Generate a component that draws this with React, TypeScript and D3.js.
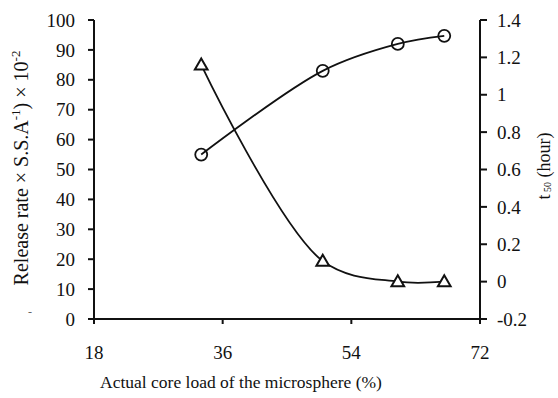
import React from 'react';
import * as d3 from 'd3';

// values
const coreLoad = [33, 50, 60.5, 67];
const releaseRate = [55, 83, 92, 94.7];
const t50 = [1.16, 0.11, 0.0, 0.0];

const xTicks = [18, 36, 54, 72];
const leftTicks = [0, 10, 20, 30, 40, 50, 60, 70, 80, 90, 100];
const rightTicks = [-0.2, 0, 0.2, 0.4, 0.6, 0.8, 1, 1.2, 1.4];

const W = 558;
const H = 398;
const left = 94;
const right = 480;
const top = 20;
const bottom = 319;

const FONT = "'Liberation Serif', 'DejaVu Serif', serif";
const INK = '#111';

export default function App() {
  const x = d3.scaleLinear().domain([18, 72]).range([left, right]);
  const yL = d3.scaleLinear().domain([0, 100]).range([bottom, top]);
  const yR = d3.scaleLinear().domain([-0.2, 1.4]).range([bottom, top]);

  const relLine = d3
    .line<number>()
    .x((d, i) => x(coreLoad[i]))
    .y(d => yL(d))
    .curve(d3.curveCatmullRom.alpha(0.5));

  const tLine = d3
    .line<number>()
    .x((d, i) => x(coreLoad[i]))
    .y(d => yR(d))
    .curve(d3.curveCatmullRom.alpha(0.5));

  const tri = d3.symbol(d3.symbolTriangle, 70)();

  const txt = { fontFamily: FONT, fill: INK } as React.CSSProperties;

  return (
    <svg width={W} height={H} style={{ position: 'absolute', left: 0, top: 0, background: '#fff' }}>
      <rect width={W} height={H} fill="#fff" />

      {/* axes */}
      <line x1={left} x2={left} y1={top} y2={bottom + 5} stroke={INK} strokeWidth={2} />
      <line x1={left} x2={right} y1={bottom} y2={bottom} stroke={INK} strokeWidth={2} />
      <line x1={right} x2={right} y1={top} y2={bottom + 5} stroke={INK} strokeWidth={2} />

      {leftTicks.map(t => (
        <g key={'l' + t}>
          <line x1={left - 6} x2={left} y1={yL(t)} y2={yL(t)} stroke={INK} strokeWidth={2} />
          <text x={75} y={yL(t)} dy="0.35em" textAnchor="end" style={{ ...txt, fontSize: 19 }}>
            {t}
          </text>
        </g>
      ))}

      {rightTicks.map(t => (
        <g key={'r' + t}>
          <line x1={right} x2={right + 7} y1={yR(t)} y2={yR(t)} stroke={INK} strokeWidth={2} />
          <text x={497} y={yR(t)} dy="0.35em" textAnchor="start" style={{ ...txt, fontSize: 19 }}>
            {t === -0.2 ? '-0.2' : String(t)}
          </text>
        </g>
      ))}

      {xTicks.map(t => (
        <g key={'x' + t}>
          <line x1={x(t)} x2={x(t)} y1={bottom} y2={bottom + 5} stroke={INK} strokeWidth={2} />
          <text x={x(t)} y={359} textAnchor="middle" style={{ ...txt, fontSize: 19 }}>
            {t}
          </text>
        </g>
      ))}

      {/* series */}
      <path d={relLine(releaseRate) || ''} fill="none" stroke={INK} strokeWidth={1.8} />
      <path d={tLine(t50) || ''} fill="none" stroke={INK} strokeWidth={1.8} />

      {releaseRate.map((v, i) => (
        <circle key={'c' + i} cx={x(coreLoad[i])} cy={yL(v)} r={6} fill="none" stroke={INK} strokeWidth={1.8} />
      ))}
      {t50.map((v, i) => (
        <path
          key={'t' + i}
          d={tri || ''}
          transform={`translate(${x(coreLoad[i])},${yR(v) + 1})`}
          fill="#fff"
          stroke={INK}
          strokeWidth={2}
        />
      ))}

      {/* titles */}
      <text x={241} y={388} textAnchor="middle" style={{ ...txt, fontSize: 17.5 }}>
        Actual core load of the microsphere (%)
      </text>
      <text transform="translate(28,168) rotate(-90)" textAnchor="middle" style={{ ...txt, fontSize: 20 }}>
        Release rate × S.S.A
        <tspan fontSize={13} dy={-8}>-1</tspan>
        <tspan dy={8}>) × 10</tspan>
        <tspan fontSize={13} dy={-8}>-2</tspan>
      </text>
      <text transform="translate(550,166) rotate(-90)" textAnchor="middle" style={{ ...txt, fontSize: 18 }}>
        t
        <tspan fontSize={10} dy={1}> 50</tspan>
        <tspan dy={-1}> (hour)</tspan>
      </text>
      <text x={30} y={316} textAnchor="middle" style={{ ...txt, fontSize: 12, fill: '#666' }}>
        -
      </text>
    </svg>
  );
}
